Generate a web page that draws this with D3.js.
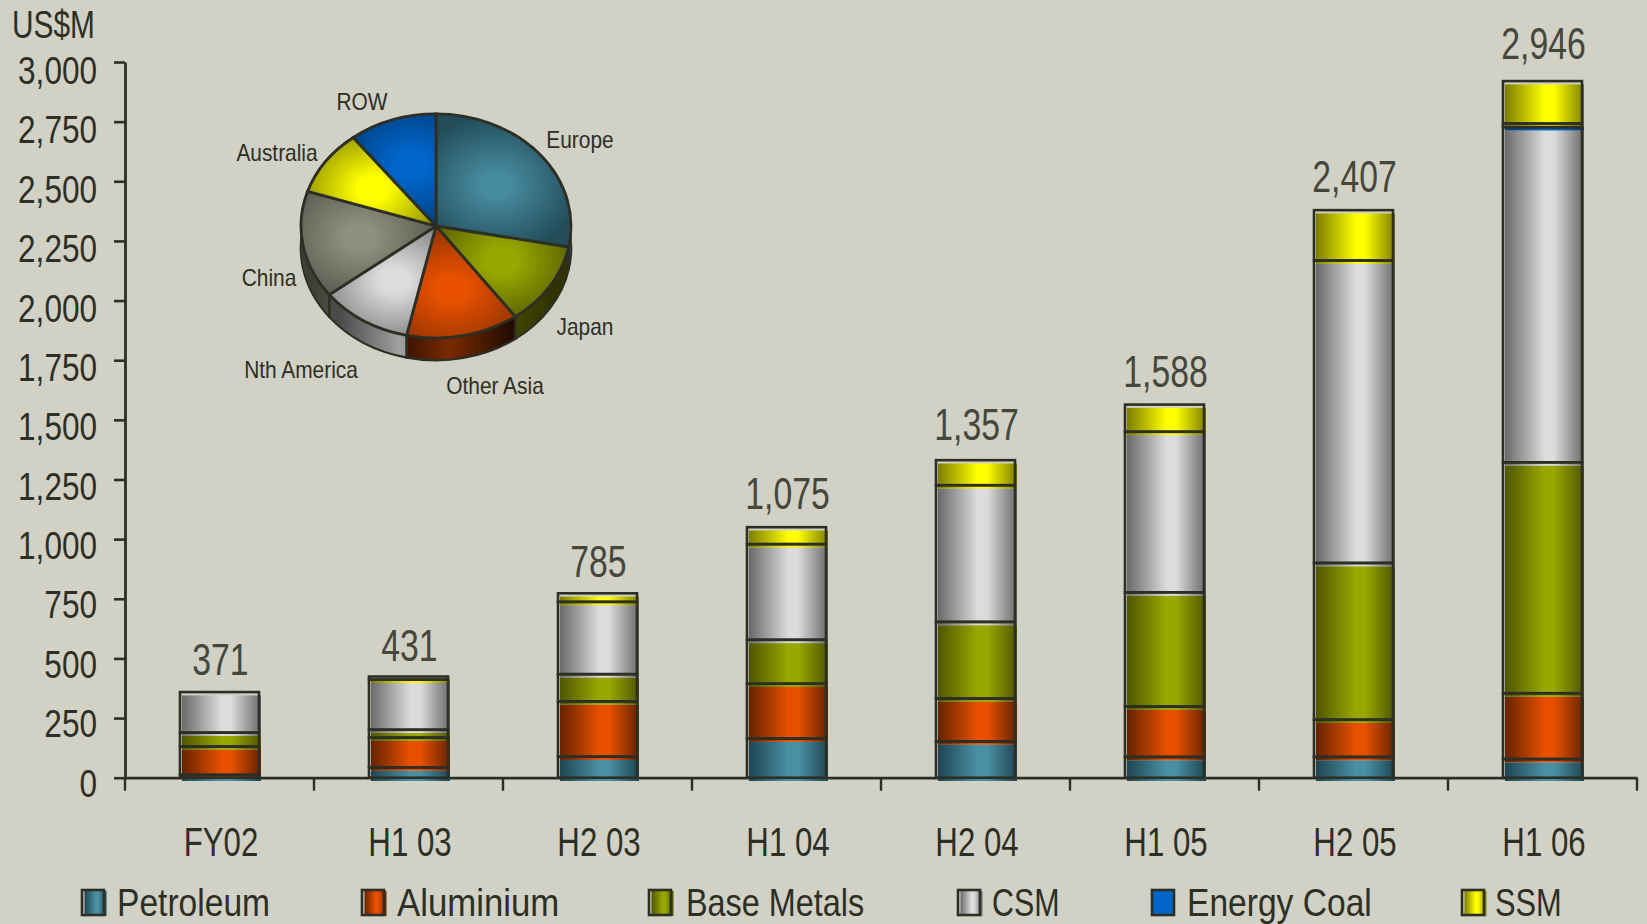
<!DOCTYPE html>
<html><head><meta charset="utf-8">
<script src="https://cdn.jsdelivr.net/npm/d3@7"></script>
<style>
html,body{margin:0;padding:0;background:#d1d1c5;overflow:hidden}
svg{display:block}
text{font-family:"Liberation Sans","Arial",sans-serif;fill:#2d2f25}
</style></head><body><svg id="c" width="1647" height="924"></svg>
<script>
const categories=["FY02","H1 03","H2 03","H1 04","H2 04","H1 05","H2 05","H1 06"];
const totalLabels=["371","431","785","1,075","1,357","1,588","2,407","2,946"];
const petroleum=[12,43,88,164,152,87,87,78];
const aluminium=[119,125,232,230,180,211,156,276];
const baseMetals=[58,33,114,184,321,479,657,968];
const csm=[170,210,303,401,573,673,1268,1405];
const energyCoal=[0,0,0,0,0,0,0,15];
const ssm=[0,13,36,71,105,114,211,178];
const seriesNames=["Petroleum","Aluminium","Base Metals","CSM","Energy Coal","SSM"];
const seriesValues=[petroleum,aluminium,baseMetals,csm,energyCoal,ssm];
const seriesCentre=["#4a90a4","#e85000","#99a800","#dcdcdc","#0066cc","#ffff00"];
const seriesEdge=["#1f4553","#662300","#4f5600","#6a6a6a","#003a75","#7d7d00"];
const yTicks=[0,250,500,750,1000,1250,1500,1750,2000,2250,2500,2750,3000];
const pieNames=["Europe","Japan","Other Asia","Nth America","China","Australia","ROW"];
const pieValues=[28,12,13.5,11,15.5,9.5,10.5];
const pieCentre=["#468a9e","#99a800","#e85000","#dcdcdc","#8f8f80","#ffff00","#0066cc"];
const pieEdge=["#234d5b","#4f5600","#8a3000","#777777","#55564a","#7d7d00","#003a75"];
const pieWallDark=["#1f4553","#2e3300","#240c00","#4a4a4a","#3c3d35","#7d7d00","#003a75"];
const pieWallLight=["#1f4553","#4a5200","#7a2a00","#a0a0a0","#66665c","#7d7d00","#003a75"];

const ink="#2d2f25";
const svg=d3.select("#c");
const defs=svg.append("defs");
const M={l:125,r:1637,t:62,b:777.7};
const x=d3.scaleBand().domain(categories).range([M.l,M.r]).paddingInner(0.582).paddingOuter(0.291);
const y=d3.scaleLinear().domain([0,3000]).range([M.b,M.t]);
const narrow=(sel,ratio)=>sel.each(function(){
  this.setAttribute("textLength",this.getComputedTextLength()*ratio);
  this.setAttribute("lengthAdjust","spacingAndGlyphs");
});

seriesNames.forEach((n,i)=>{
  const g=defs.append("linearGradient").attr("id","s"+i);
  [[0,seriesEdge[i]],[.5,seriesCentre[i]],[.62,seriesCentre[i]],[1,seriesEdge[i]]].forEach(s=>
    g.append("stop").attr("offset",s[0]).attr("stop-color",s[1]));
});

const table=categories.map((c,i)=>{const o={c};seriesNames.forEach((n,k)=>o[n]=seriesValues[k][i]);return o;});
const stacked=d3.stack().keys(seriesNames)(table);
const fillDx=2,fillDy=3.3;

const plot=svg.append("g");
stacked.forEach((layer,i)=>{
  plot.append("g").selectAll("rect").data(layer.filter(d=>d[1]>d[0])).join("rect")
    .attr("x",d=>x(d.data.c)+fillDx).attr("y",d=>y(d[1])+fillDy)
    .attr("width",x.bandwidth()).attr("height",d=>Math.max(0,y(d[0])-y(d[1])))
    .attr("fill",`url(#s${i})`);
});

// axes
const labelDrop=d3.scaleLinear().domain([0,3000]).range([18.4,21.5]);
const axY=d3.axisLeft(y).tickValues(yTicks).tickFormat(d3.format(",")).tickSize(11).tickSizeOuter(0);
const gy=svg.append("g").attr("transform",`translate(${M.l},0)`).call(axY);
gy.selectAll("text").attr("font-size",38).attr("dy",0).attr("x",-28).attr("y",d=>labelDrop(d)).attr("text-anchor","end").call(narrow,0.83);
const axX=d3.axisBottom(x).tickSize(0).tickSizeOuter(0);
const gx=svg.append("g").attr("transform",`translate(0,${M.b})`).call(axX);
gx.selectAll("text").attr("font-size",40).attr("dy",0).attr("y",78).attr("dx",1.5).call(narrow,0.78);
gx.selectAll("line.sep").data(d3.range(categories.length+1)).join("line").attr("class","sep")
  .attr("x1",i=>M.l+i*x.step()).attr("x2",i=>M.l+i*x.step()).attr("y1",0).attr("y2",13)
  .attr("stroke",ink).attr("stroke-width",2.4);
svg.selectAll(".domain").attr("stroke",ink).attr("stroke-width",2.8);
gy.selectAll("line").attr("stroke",ink).attr("stroke-width",2.6);

// outlines
stacked.forEach((layer,i)=>{
  plot.append("g").selectAll("rect").data(layer.filter(d=>d[1]>d[0])).join("rect")
    .attr("x",d=>x(d.data.c)).attr("y",d=>y(d[1]))
    .attr("width",x.bandwidth()).attr("height",d=>Math.max(0,y(d[0])-y(d[1])))
    .attr("fill","none").attr("stroke",ink).attr("stroke-width",2.6);
});
plot.raise();

// totals
const totalLabelGap=[17,16,16.5,18,20,17.6,18,22.5];
svg.append("g").selectAll("text").data(categories).join("text")
  .attr("x",c=>x(c)+x.bandwidth()/2+1)
  .attr("y",(c,i)=>y(d3.sum(seriesValues,s=>s[i]))-totalLabelGap[i])
  .attr("text-anchor","middle").attr("font-size",45).style("fill","#45473c")
  .text((c,i)=>totalLabels[i]).call(narrow,0.75);

svg.append("text").attr("x",12).attr("y",38).attr("font-size",38).text("US$M").call(narrow,0.785);

// legend
const legendSwatchX=[82,362,649,958,1152,1462];
const legendTextX=[117,397,686,992,1187,1495];
const legendRatio=[0.85,0.88,0.82,0.77,0.85,0.78];
const legendSwatchY=918;
const legendBaseline=915.5;
seriesNames.forEach((n,i)=>{
  const g=svg.append("g");
  if(i!==4) g.append("rect").attr("x",legendSwatchX[i]+2.5).attr("y",legendSwatchY-27).attr("width",22).attr("height",25).attr("fill",`url(#s${i})`);
  else g.append("rect").attr("x",legendSwatchX[i]).attr("y",legendSwatchY-28).attr("width",22).attr("height",25).attr("fill",seriesCentre[i]);
  g.append("rect").attr("x",legendSwatchX[i]).attr("y",legendSwatchY-28).attr("width",22).attr("height",25)
    .attr("fill","none").attr("stroke",ink).attr("stroke-width",2.6);
  g.append("text").attr("x",legendTextX[i]).attr("y",legendBaseline).attr("font-size",39.5).text(n).call(narrow,legendRatio[i]);
});

// pie
const R=135,squash=0.83,depth=22,cx=436,cy=226;
const pie=d3.pie().sort(null)(pieValues);
const arc=d3.arc().innerRadius(0).outerRadius(R);
pie.forEach((p,i)=>{
  const [mx,my]=arc.centroid(p);
  const g=defs.append("radialGradient").attr("id","p"+i).attr("gradientUnits","userSpaceOnUse")
    .attr("cx",mx*1.15).attr("cy",my*1.15).attr("r",R*0.62);
  g.append("stop").attr("offset",0).attr("stop-color",pieCentre[i]);
  g.append("stop").attr("offset",.18).attr("stop-color",pieCentre[i]);
  g.append("stop").attr("offset",1).attr("stop-color",pieEdge[i]);
  const w=defs.append("linearGradient").attr("id","w"+i).attr("gradientUnits","userSpaceOnUse")
    .attr("x1",mx-R*.45).attr("x2",mx+R*.45);
  w.append("stop").attr("offset",0).attr("stop-color",pieWallDark[i]);
  w.append("stop").attr("offset",.5).attr("stop-color",pieWallLight[i]);
  w.append("stop").attr("offset",1).attr("stop-color",pieWallDark[i]);
});
const pg=svg.append("g");
d3.range(depth,0,-1).forEach(dz=>{
  const l=pg.append("g").attr("transform",`translate(${cx},${cy+dz}) scale(1,${squash})`);
  l.selectAll("path").data(pie).join("path").attr("d",arc).attr("fill",(d,i)=>`url(#w${i})`)
    .attr("stroke",dz===depth?ink:"none").attr("stroke-width",2.6).attr("vector-effect","non-scaling-stroke");
});
pie.forEach(p=>{
  const a=p.startAngle, sx=Math.sin(a)*R, sy=-Math.cos(a)*R*squash;
  if(sy>0) pg.append("line").attr("x1",cx+sx).attr("x2",cx+sx).attr("y1",cy+sy).attr("y2",cy+sy+depth)
    .attr("stroke",ink).attr("stroke-width",2.6);
});
const pieTop=pg.append("g").attr("transform",`translate(${cx},${cy}) scale(1,${squash})`);
pieTop.selectAll("path").data(pie).join("path").attr("d",arc).attr("fill",(d,i)=>`url(#p${i})`)
  .attr("stroke",ink).attr("stroke-width",2.8).attr("vector-effect","non-scaling-stroke");

const pieLabelX=[580,585,495,301,269,277,362];
const pieLabelY=[148,335,394,378,286,161,110];
svg.append("g").selectAll("text").data(pieNames).join("text")
  .attr("x",(d,i)=>pieLabelX[i]).attr("y",(d,i)=>pieLabelY[i]).attr("text-anchor","middle")
  .attr("font-size",24).text(d=>d).call(narrow,0.87);
</script></body></html>
